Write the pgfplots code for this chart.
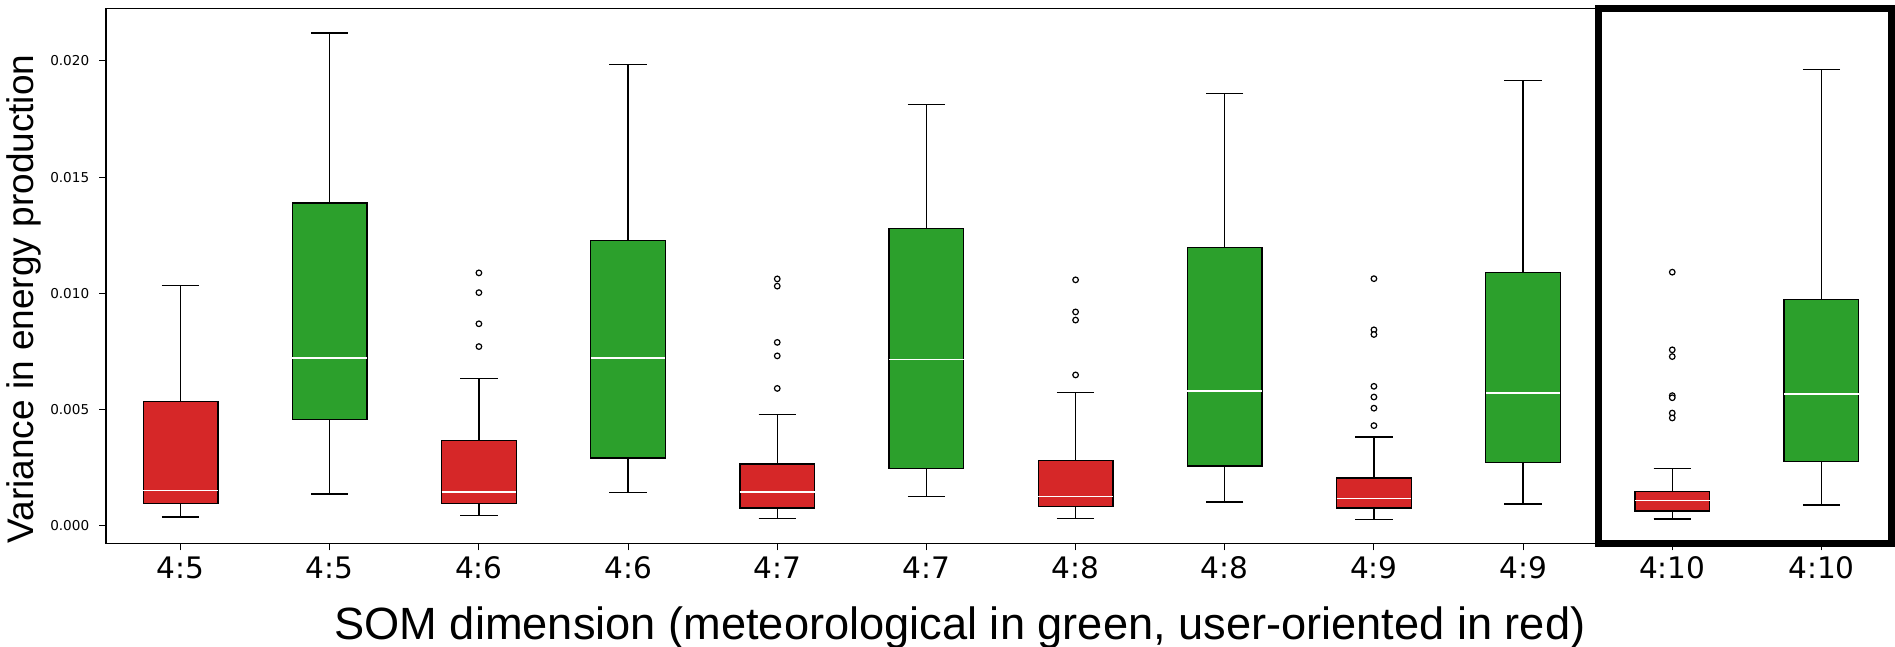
\documentclass[border=0pt]{standalone}
\usepackage{fontspec}
\setmainfont{DejaVu Sans}
\newfontfamily\arial{Liberation Sans}
\usepackage{pgfplots}
\pgfplotsset{compat=1.18}
\usepgfplotslibrary{statistics}
\definecolor{tabred}{HTML}{D62728}
\definecolor{tabgreen}{HTML}{2CA02C}
% values in units of 0.001 (tick labels give the real values)
\begin{document}
\begin{tikzpicture}
\begin{axis}[
  scale only axis,
  width=895pt, height=267.6pt,
  xmin=-0.5, xmax=11.5,
  ymin=-0.76, ymax=22.26,
  axis line style={line width=0.6pt},
  xtick={0,1,2,3,4,5,6,7,8,9,10,11},
  xticklabels={4:5,4:5,4:6,4:6,4:7,4:7,4:8,4:8,4:9,4:9,4:10,4:10},
  ytick={0,5,10,15,20},
  yticklabels={0.000,0.005,0.010,0.015,0.020},
  scaled y ticks=false,
  tick align=outside,
  major tick length=3.5pt,
  x tick style={line width=0.5pt, black},
  y tick style={line width=0.5pt, black},
  xtick pos=bottom, ytick pos=left,
  xticklabel style={font=\fontsize{14.8}{16}\selectfont, inner sep=0pt, anchor=north, yshift=-2.8pt},
  yticklabel style={font=\fontsize{6.8}{8}\selectfont, inner sep=0pt, anchor=east, xshift=-4.7pt},
  xlabel={\arial\fontsize{22.6}{26}\selectfont SOM dimension (meteorological in green, user-oriented in red)},
  ylabel={\arial\fontsize{18.5}{22}\selectfont Variance in energy production},
  every axis x label/.style={at={(rel axis cs:0.4771,-0.1803)}, anchor=base, inner sep=0pt},
  every axis y label/.style={at={(rel axis cs:-0.0406,0.4568)}, rotate=90, anchor=base, inner sep=0pt},
  boxplot/draw direction=y,
  boxplot/box extend=0.5,
  boxplot/whisker extend=0.25,
  boxplot/every median/.style={draw=white, line width=0.7pt},
  boxplot/every box/.style={draw=black, line width=0.65pt},
  boxplot/every whisker/.style={draw=black, line width=0.65pt},
  clip=false,
]
% 4:5 red
\addplot[boxplot prepared={draw position=0, lower whisker=0.38, lower quartile=0.97, median=1.52, upper quartile=5.35, upper whisker=10.34}, fill=tabred, draw=black] coordinates {};
% 4:5 green
\addplot[boxplot prepared={draw position=1, lower whisker=1.37, lower quartile=4.57, median=7.22, upper quartile=13.88, upper whisker=21.2}, fill=tabgreen, draw=black] coordinates {};
% 4:6 red
\addplot[boxplot prepared={draw position=2, lower whisker=0.43, lower quartile=0.97, median=1.46, upper quartile=3.66, upper whisker=6.35}, fill=tabred, draw=black, mark=*, mark size=1.4pt, mark options={fill=white, draw=black, line width=0.6pt}] table[row sep=\\, y index=0] {10.88\\10.03\\8.69\\7.71\\};
% 4:6 green
\addplot[boxplot prepared={draw position=3, lower whisker=1.42, lower quartile=2.92, median=7.22, upper quartile=12.28, upper whisker=19.85}, fill=tabgreen, draw=black] coordinates {};
% 4:7 red
\addplot[boxplot prepared={draw position=4, lower whisker=0.32, lower quartile=0.77, median=1.46, upper quartile=2.66, upper whisker=4.8}, fill=tabred, draw=black, mark=*, mark size=1.4pt, mark options={fill=white, draw=black, line width=0.6pt}] table[row sep=\\, y index=0] {10.62\\10.31\\7.89\\7.31\\5.91\\};
% 4:7 green
\addplot[boxplot prepared={draw position=5, lower whisker=1.26, lower quartile=2.46, median=7.15, upper quartile=12.78, upper whisker=18.11}, fill=tabgreen, draw=black] coordinates {};
% 4:8 red
\addplot[boxplot prepared={draw position=6, lower whisker=0.32, lower quartile=0.82, median=1.26, upper quartile=2.8, upper whisker=5.74}, fill=tabred, draw=black, mark=*, mark size=1.4pt, mark options={fill=white, draw=black, line width=0.6pt}] table[row sep=\\, y index=0] {10.58\\9.2\\8.85\\6.49\\};
% 4:8 green
\addplot[boxplot prepared={draw position=7, lower whisker=1.02, lower quartile=2.57, median=5.8, upper quartile=11.98, upper whisker=18.6}, fill=tabgreen, draw=black] coordinates {};
% 4:9 red
\addplot[boxplot prepared={draw position=8, lower whisker=0.28, lower quartile=0.77, median=1.18, upper quartile=2.06, upper whisker=3.82}, fill=tabred, draw=black, mark=*, mark size=1.4pt, mark options={fill=white, draw=black, line width=0.6pt}] table[row sep=\\, y index=0] {10.63\\8.43\\8.23\\6.0\\5.54\\5.06\\4.31\\};
% 4:9 green
\addplot[boxplot prepared={draw position=9, lower whisker=0.94, lower quartile=2.72, median=5.72, upper quartile=10.89, upper whisker=19.15}, fill=tabgreen, draw=black] coordinates {};
% 4:10 red
\addplot[boxplot prepared={draw position=10, lower whisker=0.3, lower quartile=0.64, median=1.1, upper quartile=1.47, upper whisker=2.47}, fill=tabred, draw=black, mark=*, mark size=1.4pt, mark options={fill=white, draw=black, line width=0.6pt}] table[row sep=\\, y index=0] {10.91\\7.57\\7.28\\5.6\\5.51\\4.85\\4.64\\};
% 4:10 green
\addplot[boxplot prepared={draw position=11, lower whisker=0.89, lower quartile=2.77, median=5.67, upper quartile=9.73, upper whisker=19.64}, fill=tabgreen, draw=black] coordinates {};
% highlight frame
\draw[line width=3.4pt, black] (axis cs:9.507,-0.76) rectangle (axis cs:11.47,22.26);
\end{axis}
\pgfresetboundingbox
\path[use as bounding box] (-53pt,-51.75pt) rectangle (894.5pt,271.75pt);
\end{tikzpicture}
\end{document}
